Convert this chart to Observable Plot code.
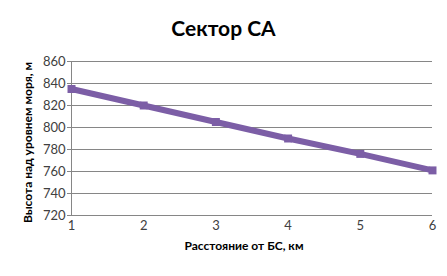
<!DOCTYPE html>
<html>
<head>
<meta charset="utf-8">
<script src="https://cdn.jsdelivr.net/npm/d3@7"></script>
<script src="https://cdn.jsdelivr.net/npm/@observablehq/plot@0.6"></script>
<style>
  body { margin: 0; background: #fff; font-family: Lato, "Open Sans", sans-serif; }
  #wrap { width: 447px; height: 276px; position: relative; overflow: hidden; }
  #title { height: 45px; line-height: 56px; text-align: center; font-weight: bold; font-size: 21px; color: #000; }
</style>
</head>
<body>
<div id="wrap">
  <div id="title">Сектор СА</div>
  <div id="chart"></div>
</div>
<script>
const title = "Сектор СА";
const xLabel = "Расстояние от БС, км";
const yLabel = "Высота над уровнем моря, м";
const distanceKm = [1, 2, 3, 4, 5, 6];
const heightM = [835, 820, 805, 790, 776, 761];
const xTicks = [1, 2, 3, 4, 5, 6];
const yTicks = [720, 740, 760, 780, 800, 820, 840, 860];

const data = distanceKm.map((d, i) => ({x: d, y: heightM[i]}));
const color = "#7c5ea6";

const plot = Plot.plot({
  width: 447,
  height: 231,
  marginTop: 16,
  marginBottom: 61,
  marginLeft: 71,
  marginRight: 15,
  style: {fontFamily: "Lato, 'Open Sans', sans-serif", fontSize: "12px", color: "#404040", background: "#fff", overflow: "visible"},
  x: {domain: [1, 6], ticks: xTicks, label: null},
  y: {domain: [720, 860], ticks: yTicks, label: null},
  marks: [
    Plot.gridY(yTicks, {stroke: "#868686", strokeOpacity: 1, strokeWidth: 1}),
    Plot.ruleX([1], {stroke: "#868686"}),
    Plot.ruleY([720], {stroke: "#868686"}),
    Plot.axisY(yTicks, {tickSize: 4, tickPadding: 2, stroke: "#868686", fontSize: 13, fill: "#404040", label: null}),
    Plot.axisX(xTicks, {tickSize: 0, tickPadding: 5, fontSize: 13, fill: "#404040", label: null}),
    Plot.line(data, {x: "x", y: "y", stroke: color, strokeWidth: 6}),
    Plot.dot(data, {x: "x", y: "y", symbol: "square", r: 4.5, fill: color, stroke: "none"}),
    Plot.text([xLabel], {frameAnchor: "bottom", dy: 34, text: d => d, fontWeight: "bold", fontSize: 12, fill: "#000", dx: -8}),
    Plot.text([yLabel], {frameAnchor: "left", textAnchor: "middle", dx: -43, dy: 4, rotate: -90, text: d => d, fontWeight: "bold", fontSize: 12, fill: "#000"})
  ]
});
document.getElementById("chart").appendChild(plot);
</script>
</body>
</html>
